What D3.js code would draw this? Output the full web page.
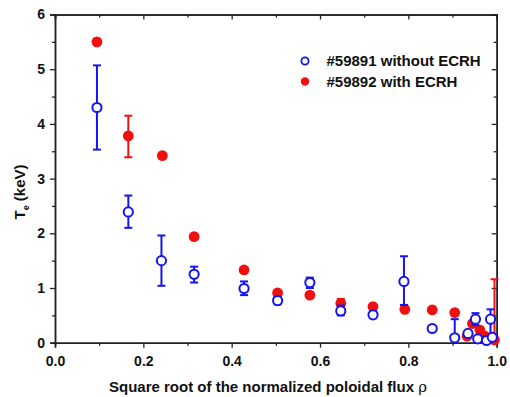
<!DOCTYPE html>
<html>
<head>
<meta charset="utf-8">
<script src="https://cdn.jsdelivr.net/npm/d3@7"></script>
<style>
  body { margin: 0; background: #fff; }
  svg { display: block; font-family: Arial, "Liberation Sans", sans-serif; }
  .axis path, .axis line { stroke: #222; }
  .axis text { font-size: 14px; font-weight: bold; fill: #111; }
</style>
</head>
<body>
<div id="chart"></div>
<script>
// shot #59891 without ECRH (open blue)
const rhoA = [0.095, 0.166, 0.241, 0.315, 0.428, 0.504, 0.577, 0.647, 0.720, 0.790, 0.854, 0.905, 0.935, 0.952, 0.957, 0.977, 0.986, 0.990];
const teA = [4.30, 2.39, 1.50, 1.25, 0.99, 0.77, 1.10, 0.58, 0.51, 1.12, 0.26, 0.09, 0.17, 0.43, 0.07, 0.04, 0.43, 0.10];
const loA = [3.53, 2.10, 1.04, 1.10, 0.87, 0.70, 1.00, 0.50, 0.45, 0.69, null, 0.00, null, 0.32, null, null, 0.00, null];
const hiA = [5.07, 2.69, 1.96, 1.39, 1.12, 0.83, 1.19, 0.68, 0.58, 1.58, null, 0.43, null, 0.54, null, null, 0.61, null];

// shot #59892 with ECRH (filled red)
const rhoB = [0.095, 0.166, 0.243, 0.315, 0.428, 0.504, 0.577, 0.647, 0.720, 0.792, 0.854, 0.905, 0.933, 0.945, 0.962, 0.973, 0.985, 0.995];
const teB = [5.50, 3.78, 3.42, 1.94, 1.33, 0.91, 0.87, 0.72, 0.66, 0.61, 0.60, 0.55, 0.12, 0.35, 0.23, 0.12, 0.08, 0.05];
const loB = [null, 3.39, null, null, null, null, null, 0.65, null, null, null, null, null, null, null, null, null, 0.00];
const hiB = [null, 4.15, null, null, null, null, null, 0.80, null, null, null, null, null, null, null, null, null, 1.16];

const xTicks = [0.0, 0.2, 0.4, 0.6, 0.8, 1.0];
const yTicks = [0, 1, 2, 3, 4, 5, 6];
const legendLabels = ['#59891 without ECRH', '#59892 with ECRH'];

const width = 510, height = 397;
const margin = { top: 14.5, right: 13.3, bottom: 54.3, left: 55 };
const innerWidth = width - margin.left - margin.right;
const innerHeight = height - margin.top - margin.bottom;
const blue = '#1414f0', red = '#f01010';

const svg = d3.select('#chart').append('svg')
  .attr('width', width)
  .attr('height', height);

const chart = svg.append('g')
  .attr('transform', 'translate(' + margin.left + ', ' + margin.top + ')');

const x = d3.scaleLinear().domain([0, 1]).range([0, innerWidth]);
const y = d3.scaleLinear().domain([0, 6]).range([innerHeight, 0]);

const xMinor = d3.range(0.1, 1.0, 0.2);
const yMinor = d3.range(0.5, 6, 1);

// tick-only axis, no labels
function bare(axis, transform) {
  chart.append('g').attr('class', 'axis')
    .attr('transform', transform || null)
    .call(axis)
    .call((g) => g.selectAll('text').remove());
}

function axes() {
  // bottom (outward) and top (inward)
  chart.append('g').attr('class', 'axis')
    .attr('transform', 'translate(0, ' + innerHeight + ')')
    .call(d3.axisBottom(x).tickValues(xTicks).tickFormat(d3.format('.1f')).tickSize(5).tickPadding(8))
    .call((g) => g.selectAll('text').attr('dy', '0.71em'));
  bare(d3.axisBottom(x).tickValues(xMinor).tickSize(3), 'translate(0, ' + innerHeight + ')');
  bare(d3.axisTop(x).tickValues(xTicks).tickSize(-5));
  bare(d3.axisTop(x).tickValues(xMinor).tickSize(-3));

  // left (outward) and right (inward)
  chart.append('g').attr('class', 'axis')
    .call(d3.axisLeft(y).tickValues(yTicks).tickFormat(d3.format('d')).tickSize(5).tickPadding(5));
  bare(d3.axisLeft(y).tickValues(yMinor).tickSize(3));
  bare(d3.axisRight(y).tickValues(yTicks).tickSize(-5), 'translate(' + innerWidth + ', 0)');
  bare(d3.axisRight(y).tickValues(yMinor).tickSize(-3), 'translate(' + innerWidth + ', 0)');

  chart.selectAll('.axis path').attr('stroke-width', 1.5);
  chart.selectAll('.axis line').attr('stroke-width', 1.3);
}

function series(rho, te, lo, hi, color, filled) {
  const pts = rho.map((r, i) => ({ r: r, t: te[i], lo: lo[i], hi: hi[i] }));
  const g = chart.append('g');
  const bars = pts.filter((d) => d.lo !== null);
  g.selectAll('line.err').data(bars).enter().append('line')
    .attr('x1', (d) => x(d.r)).attr('x2', (d) => x(d.r))
    .attr('y1', (d) => y(d.lo)).attr('y2', (d) => y(d.hi))
    .attr('stroke', color).attr('stroke-width', 2);
  ['lo', 'hi'].forEach((k) => {
    g.selectAll('line.cap-' + k).data(bars.filter((d) => d[k] > 0)).enter().append('line')
      .attr('x1', (d) => x(d.r) - 4).attr('x2', (d) => x(d.r) + 4)
      .attr('y1', (d) => y(d[k])).attr('y2', (d) => y(d[k]))
      .attr('stroke', color).attr('stroke-width', 2);
  });
  g.selectAll('circle').data(pts).enter().append('circle')
    .attr('cx', (d) => x(d.r))
    .attr('cy', (d) => y(d.t))
    .attr('r', filled ? 5.4 : 4.6)
    .attr('fill', filled ? color : '#fff')
    .attr('stroke', color)
    .attr('stroke-width', filled ? 0 : 2);
}

axes();
series(rhoB, teB, loB, hiB, red, true);
series(rhoA, teA, loA, hiA, blue, false);

// legend
const legend = chart.append('g').attr('transform', 'translate(250, 46.5)');
legendLabels.forEach((label, i) => {
  const row = legend.append('g').attr('transform', 'translate(0, ' + (i * 20.5) + ')');
  row.append('circle').attr('r', i === 0 ? 3.6 : 4.2)
    .attr('fill', i === 0 ? '#fff' : red)
    .attr('stroke', i === 0 ? blue : 'none')
    .attr('stroke-width', 1.8);
  row.append('text').attr('x', 21.5).attr('dy', '0.36em')
    .style('font-size', '15px').style('font-weight', 'bold').attr('fill', '#111')
    .text(label);
});

// axis titles
svg.append('text')
  .attr('x', 268).attr('y', 392)
  .attr('text-anchor', 'middle')
  .style('font-size', '15px').style('font-weight', 'bold').attr('fill', '#111')
  .text('Square root of the normalized poloidal flux ')
  .append('tspan').style('font-family', '"DejaVu Serif", serif').style('font-weight', 'normal').text('ρ');

const yt = svg.append('text')
  .attr('transform', 'translate(25, 192) rotate(-90)')
  .attr('text-anchor', 'middle')
  .style('font-size', '15px').style('font-weight', 'bold').attr('fill', '#111');
yt.append('tspan').text('T');
yt.append('tspan').attr('dy', 4).style('font-size', '9px').text('e');
yt.append('tspan').attr('dy', -4).text(' (keV)');
</script>
</body>
</html>
